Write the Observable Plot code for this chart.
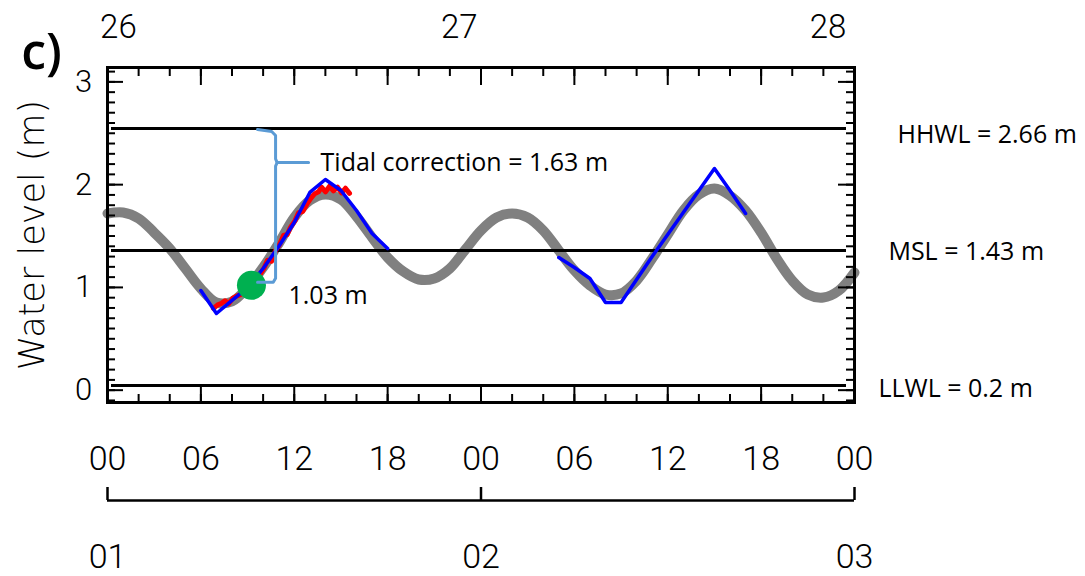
<!DOCTYPE html>
<html><head><meta charset="utf-8">
<script src="https://cdn.jsdelivr.net/npm/d3@7"></script>
<script src="https://cdn.jsdelivr.net/npm/@observablehq/plot@0.6"></script>
<style>body{margin:0;background:#fff} #chart svg{display:block}</style>
</head><body><div id="chart"></div>
<script>
// ---- data (hours since 00 on day 01, water level in m) ----
const predictedHours = [0,1,2,3,4,5,6,7,8,9,10,11,12,13,14,15,16,17,18,19,20,21,22,23,24,25,26,27,28,29,30,31,32,33,34,35,36,37,38,39,40,41,42,43,44,45,46,47,48];
const predictedLevel = [1.719,1.729,1.671,1.534,1.379,1.184,0.989,0.853,0.863,0.999,1.194,1.427,1.680,1.846,1.904,1.855,1.690,1.486,1.291,1.155,1.077,1.087,1.184,1.369,1.554,1.680,1.719,1.680,1.554,1.359,1.165,1.019,0.931,0.941,1.067,1.281,1.515,1.748,1.904,1.963,1.894,1.748,1.534,1.281,1.067,0.931,0.902,0.970,1.145];

const radarHoursA = [6,7,8,9,10,11,12,13,14,15,16,17,18];
const radarLevelA = [0.970,0.746,0.873,0.999,1.184,1.398,1.632,1.924,2.050,1.943,1.748,1.525,1.379];
const radarHoursB = [29,30,31,32,33,34,35,36,37,38,39,40,41];
const radarLevelB = [1.291,1.194,1.087,0.853,0.853,1.077,1.301,1.515,1.729,1.943,2.157,1.943,1.719];

const observedHours = [6.81,7.08,7.33,7.55,7.78,8.05,8.29,8.55,8.80,9.05,9.32,9.55,9.77,10.05,10.28,10.55,10.80,11.05,11.31,11.55,11.76,12.05,12.27,12.55,12.79,13.05,13.30,13.56,13.75,14.01,14.27,14.52,14.78,15.04,15.29,15.55];
const observedLevel = [0.795,0.830,0.845,0.870,0.840,0.895,0.915,0.930,0.965,1.025,1.070,1.060,1.120,1.185,1.265,1.255,1.360,1.415,1.505,1.515,1.585,1.650,1.725,1.740,1.805,1.865,1.910,1.930,1.975,1.930,1.985,1.940,1.975,1.920,1.965,1.915];

const levelNames = ["HHWL","MSL","LLWL"];
const levelDrawn = [2.546, 1.359, 0.045];
const levelLabels = ["HHWL = 2.66 m","MSL = 1.43 m","LLWL = 0.2 m"];
const levelLabelHour = [50.76, 50.18, 49.54];
const levelLabelLevel = [2.488, 1.340, 0.007];

const samplePoint = [{hour: 9.25, level: 1.02}];
const bracketHours = [9.64,10.55,10.8,10.8,10.9,12.92, 10.9,10.8,10.8,10.65,9.64];
const bracketLevels = [2.537,2.517,2.478,2.25,2.215,2.215, 2.215,2.18,1.09,1.05,1.05];
const bracketPart = ["a","a","a","a","a","a","b","b","b","b","b"];
const annotationText = ["Tidal correction = 1.63 m","1.03 m"];
const annotationHour = [13.69, 11.63];
const annotationLevel = [2.206, 0.921];

const hourTickValues = [0,6,12,18,24,30,36,42,48];
const hourTickLabels = ["00","06","12","18","00","06","12","18","00"];
const dayTickValues = [0,24,48];
const dayTickLabels = ["01","02","03"];
const topDayValues = [0.7, 22.6, 46.3];
const topDayLabels = ["26","27","28"];
const yTickValues = [0,1,2,3];
const yTickLabels = ["0","1","2","3"];

// ---- tables built from arrays ----
const predicted = predictedHours.map((h,i)=>({hour:h, level:predictedLevel[i]}));
const radar = radarHoursA.map((h,i)=>({hour:h, level:radarLevelA[i], seg:"A"}))
  .concat(radarHoursB.map((h,i)=>({hour:h, level:radarLevelB[i], seg:"B"})));
const observed = observedHours.map((h,i)=>({hour:h, level:observedLevel[i]}));
const bracket = bracketHours.map((h,i)=>({hour:h, level:bracketLevels[i], part:bracketPart[i]}));
const levelTbl = levelNames.map((n,i)=>({name:n, level:levelDrawn[i], label:levelLabels[i], lh:levelLabelHour[i], ll:levelLabelLevel[i]}));
const annTbl = annotationText.map((t,i)=>({text:t, hour:annotationHour[i], level:annotationLevel[i]}));

const W = 747, H = 335;
const minorX = d3.range(0, 49, 2), majorX = d3.range(0, 49, 6);
const minorY = d3.range(-1, 32).map(i => i/10), majorY = yTickValues;
const digitFont = "Roboto";

const chart = Plot.plot({
  width: 1085, height: 576,
  marginLeft: 107, marginRight: 231, marginTop: 67, marginBottom: 174,
  x: {domain: [0, 48], axis: null},
  y: {domain: [-0.12, 3.14], axis: null},
  style: {background: "white", fontFamily: "Open Sans"},
  marks: [
    Plot.line(predicted, {x: "hour", y: "level", stroke: "#808080", strokeWidth: 10, curve: "catmull-rom", strokeLinecap: "round", strokeLinejoin: "round"}),
    Plot.ruleY(levelTbl, {y: "level", stroke: "black", strokeWidth: 3, insetLeft: 4, insetRight: 8}),
    Plot.line(observed, {x: "hour", y: "level", stroke: "#FF0000", strokeWidth: 5, strokeLinejoin: "round", strokeLinecap: "round"}),
    Plot.line(radar, {x: "hour", y: "level", z: "seg", stroke: "#0000FF", strokeWidth: 3.5}),
    Plot.dot(samplePoint, {x: "hour", y: "level", r: 14.5, fill: "#00B050", stroke: null}),
    Plot.line(bracket, {x: "hour", y: "level", z: "part", stroke: "#5B9BD5", strokeWidth: 3, curve: "linear"}),
    // frame tick marks (inward)
    Plot.ruleX(minorX, {x: d => d, insetBottom: H - 9, stroke: "black", strokeWidth: 2}),
    Plot.ruleX(majorX, {x: d => d, insetBottom: H - 18, stroke: "black", strokeWidth: 2}),
    Plot.ruleX(minorX, {x: d => d, insetTop: H - 8, stroke: "black", strokeWidth: 2}),
    Plot.ruleX(majorX, {x: d => d, insetTop: H - 15, stroke: "black", strokeWidth: 2}),
    Plot.ruleY(minorY, {y: d => d, insetRight: W - 8, stroke: "black", strokeWidth: 2}),
    Plot.ruleY(majorY, {y: d => d, insetRight: W - 16, stroke: "black", strokeWidth: 2}),
    Plot.ruleY(minorY, {y: d => d, insetLeft: W - 8, stroke: "black", strokeWidth: 2}),
    Plot.ruleY(majorY, {y: d => d, insetLeft: W - 16, stroke: "black", strokeWidth: 2}),
    Plot.frame({stroke: "black", strokeWidth: 3}),
    // tick labels
    Plot.text(yTickValues, {x: 0, y: d => d, text: (d,i) => yTickLabels[i], dx: -24, textAnchor: "middle", lineAnchor: "middle", fontSize: 31, fontFamily: digitFont, fontWeight: 300, fill: "black"}),
    Plot.text(hourTickValues, {x: d => d, text: (d,i) => hourTickLabels[i], frameAnchor: "bottom", dy: 57, textAnchor: "middle", lineAnchor: "middle", fontSize: 34, fontFamily: digitFont, fontWeight: 300, fill: "black"}),
    Plot.text(dayTickValues, {x: d => d, text: (d,i) => dayTickLabels[i], frameAnchor: "bottom", dy: 155, textAnchor: "middle", lineAnchor: "middle", fontSize: 34, fontFamily: digitFont, fontWeight: 300, fill: "black"}),
    Plot.text(topDayValues, {x: d => d, text: (d,i) => topDayLabels[i], frameAnchor: "top", dy: -40, textAnchor: "middle", lineAnchor: "middle", fontSize: 33, fontFamily: digitFont, fontWeight: 300, fill: "black"}),
    // day bracket below the hour labels
    Plot.ruleY([-0.12], {y: d => d, dy: 98, stroke: "black", strokeWidth: 2.5}),
    Plot.ruleX(dayTickValues, {x: d => d, insetTop: H - 13, dy: 98, stroke: "black", strokeWidth: 2.5}),
    // axis title and panel letter
    Plot.text(["Water level (m)"], {frameAnchor: "left", dx: -75, dy: 0, rotate: -90, textAnchor: "middle", lineAnchor: "middle", fontSize: 35, fontFamily: "DejaVu Sans", fontWeight: 300, fill: "black"}),
    Plot.text(["c)"], {frameAnchor: "top-left", dx: -66, dy: -15, textAnchor: "middle", lineAnchor: "middle", fontSize: 50, fontFamily: "Open Sans", fontWeight: 600, fill: "black"}),
    // annotations
    Plot.text(levelTbl, {x: "lh", y: "ll", text: "label", textAnchor: "start", lineAnchor: "middle", fontSize: 25, fontFamily: "Open Sans", fill: "black"}),
    Plot.text(annTbl, {x: "hour", y: "level", text: "text", textAnchor: "start", lineAnchor: "middle", fontSize: 25, fontFamily: "Open Sans", fill: "black"})
  ]
});
document.getElementById("chart").append(chart);
</script>
</body></html>
